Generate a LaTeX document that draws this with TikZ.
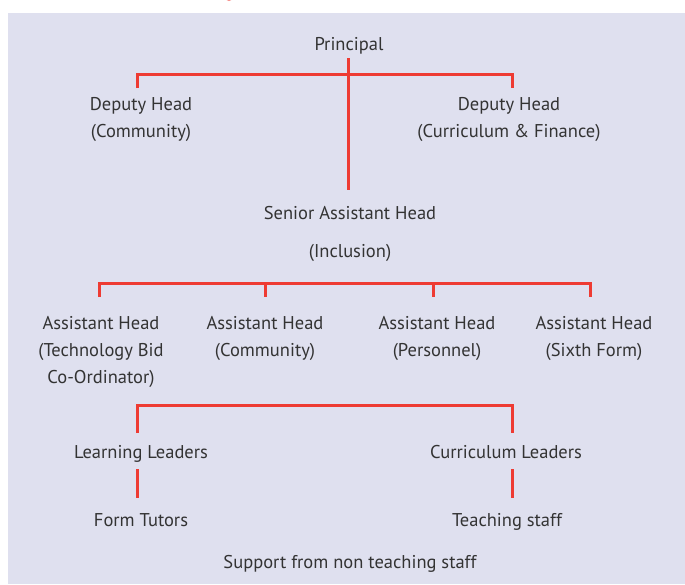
\documentclass[tikz,border=0pt]{standalone}
\usepackage{fontspec}
\setmainfont{PT Sans}
\definecolor{bgc}{HTML}{DFE0EF}
\definecolor{redc}{HTML}{EE3B33}
\definecolor{txtc}{HTML}{333333}
\begin{document}
\begin{tikzpicture}[x=1pt,y=-1pt,
  txt/.style={text=txtc,align=center,inner sep=0pt,anchor=base,font=\fontsize{18.5}{27}\selectfont},
  redline/.style={draw=redc,line width=3pt}]
\useasboundingbox (0,0) rectangle (685,584);
\fill[bgc] (8,13) rectangle (685,584);
\fill[redc!60] (229,-4) circle (5);
% nodes
\node[txt] (p) at (349,50.5) {Principal};
\node[txt] (dh1) at (141,137.5) {Deputy Head\\(Community)};
\node[txt] (dh2) at (509,137.5) {Deputy Head\\(Curriculum \& Finance)};
\node[txt] (sah) at (350,257.5) {Senior Assistant Head\\[11pt](Inclusion)};
\node[txt] (ah1) at (101,383.5) {Assistant Head\\(Technology Bid\\Co-Ordinator)};
\node[txt] (ah2) at (265,356.5) {Assistant Head\\(Community)};
\node[txt] (ah3) at (437,356.5) {Assistant Head\\(Personnel)};
\node[txt] (ah4) at (594,356.5) {Assistant Head\\(Sixth Form)};
\node[txt] (ll) at (141,458.5) {Learning Leaders};
\node[txt] (cl) at (506,458.5) {Curriculum Leaders};
\node[txt] (ft) at (141,526.5) {Form Tutors};
\node[txt] (ts) at (507,526.5) {Teaching staff};
\node[txt] (sup) at (350,568.5) {Support from non teaching staff};
% connector coordinates
\coordinate (pv) at (348,58);
\coordinate (sv) at (348,190);
\coordinate (t1) at (137,74);
\coordinate (t2) at (512,74);
\coordinate (a1) at (99,283);
\coordinate (a2) at (265,283);
\coordinate (a3) at (433,283);
\coordinate (a4) at (590,283);
\coordinate (l1) at (137,405);
\coordinate (l2) at (512,405);
\coordinate (f1) at (137,469);
\coordinate (f2) at (137,498);
\coordinate (g1) at (512,469);
\coordinate (g2) at (512,498);
% connectors
\draw[redline] (pv) -- (sv);
\draw[redline] (t1) ++(0,14) -- (t1) -- (t2) -- ++(0,14);
\draw[redline] (a1) ++(0,14) -- (a1) -- (a4) -- ++(0,14);
\draw[redline] (a2) -- ++(0,14);
\draw[redline] (a3) -- ++(0,14);
\draw[redline] (l1) ++(0,28) -- (l1) -- (l2) -- ++(0,28);
\draw[redline] (f1) -- (f2);
\draw[redline] (g1) -- (g2);
\end{tikzpicture}
\end{document}
